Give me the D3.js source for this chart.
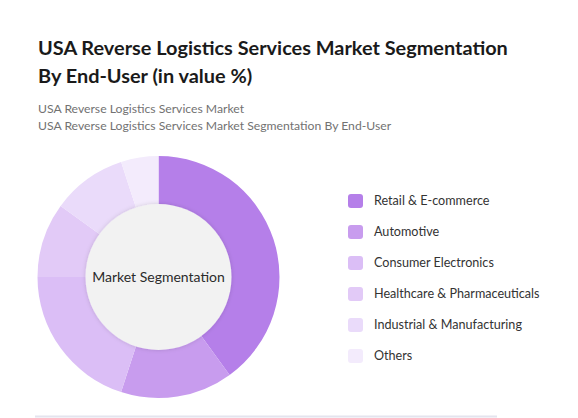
<!DOCTYPE html>
<html>
<head>
<meta charset="utf-8">
<script src="https://cdn.jsdelivr.net/npm/d3@7"></script>
<style>
  body { margin: 0; background: #fff; font-family: Lato, "Open Sans", sans-serif; }
  svg { display: block; }
</style>
</head>
<body>
<svg id="chart" width="578" height="418"></svg>
<script>
var categories = ["Retail & E-commerce", "Automotive", "Consumer Electronics",
                  "Healthcare & Pharmaceuticals", "Industrial & Manufacturing", "Others"];
var values = [40, 15, 20, 10, 10, 5];
var colors = ["#b57fe9", "#c89cee", "#dbbef6", "#e2caf7", "#eadbfa", "#f3ebfc"];

var titleLines = ["USA Reverse Logistics Services Market Segmentation", "By End-User (in value %)"];
var subLines = ["USA Reverse Logistics Services Market",
                "USA Reverse Logistics Services Market Segmentation By End-User"];
var centerLabel = "Market Segmentation";

var svg = d3.select("#chart");

var defs = svg.append("defs");
var shadow = defs.append("filter").attr("id", "shadow")
    .attr("x", "-20%").attr("y", "-20%").attr("width", "140%").attr("height", "140%");
shadow.append("feDropShadow")
    .attr("dx", 0).attr("dy", 0).attr("stdDeviation", 2)
    .attr("flood-color", "#000").attr("flood-opacity", 0.15);

// title + subtitle
svg.selectAll(".title")
    .data(titleLines)
    .enter().append("text")
    .attr("class", "title")
    .attr("x", 38)
    .attr("y", (d, i) => 55 + i * 28)
    .style("font-size", "19.9px")
    .style("font-weight", "700")
    .style("fill", "#1a1a1a")
    .text(d => d);

svg.selectAll(".sub")
    .data(subLines)
    .enter().append("text")
    .attr("class", "sub")
    .attr("x", 38)
    .attr("y", (d, i) => 113 + i * 17)
    .style("font-size", "12.2px")
    .style("fill", "#727272")
    .text(d => d);

// donut
var cx = 158.5, cy = 277, outerR = 121, innerR = 73;

var color = d3.scaleOrdinal().domain(categories).range(colors);

var pie = d3.pie().sort(null).value(d => d.value);
var arc = d3.arc().innerRadius(innerR - 2).outerRadius(outerR);

var data = categories.map((c, i) => ({ key: c, value: values[i] }));

var g = svg.append("g").attr("transform", `translate(${cx},${cy})`);

g.selectAll("path")
    .data(pie(data))
    .enter().append("path")
    .attr("d", arc)
    .attr("fill", d => color(d.data.key));

g.append("circle")
    .attr("r", innerR)
    .attr("fill", "#f2f2f2")
    .attr("filter", "url(#shadow)");

g.append("text")
    .attr("text-anchor", "middle")
    .attr("dy", "0.35em")
    .style("font-size", "14px")
    .style("fill", "#2b2b2b")
    .text(centerLabel);

// legend
var legend = svg.selectAll(".legend")
    .data(categories)
    .enter().append("g")
    .attr("class", "legend")
    .attr("transform", (d, i) => `translate(348,${201 + i * 31})`);

legend.append("rect")
    .attr("x", 0)
    .attr("y", -7)
    .attr("width", 15)
    .attr("height", 14)
    .attr("rx", 3)
    .style("fill", d => color(d));

legend.append("text")
    .attr("x", 26)
    .attr("dy", "0.35em")
    .style("font-size", "12.6px")
    .style("fill", "#333")
    .text(d => d);

// bottom rule
svg.append("line")
    .attr("x1", 35).attr("x2", 497)
    .attr("y1", 416.5).attr("y2", 416.5)
    .style("stroke", "#e4e4ee")
    .style("stroke-width", 2);
</script>
</body>
</html>
